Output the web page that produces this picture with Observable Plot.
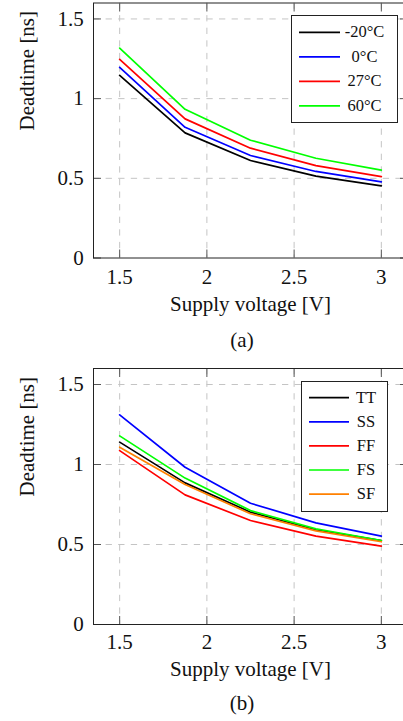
<!DOCTYPE html>
<html><head><meta charset="utf-8">
<script src="https://cdn.jsdelivr.net/npm/d3@7"></script>
<script src="https://cdn.jsdelivr.net/npm/@observablehq/plot@0.6"></script>
<style>
html,body{margin:0;padding:0;background:#fff;overflow:hidden;width:403px;height:721px;}
#root{position:relative;width:403px;height:721px;overflow:hidden;font-family:"Liberation Serif",serif;color:#000;}
.abs{position:absolute;}
svg.abs{max-width:none !important;}
svg.abs text{font-family:"Liberation Serif",serif !important;}
.cap{position:absolute;font-size:21px;line-height:21px;width:100px;text-align:center;font-family:"Liberation Serif",serif;}
</style></head><body><div id="root"></div>
<script>
// ---- data ----
const voltage = [1.5, 1.875, 2.25, 2.625, 3];

const tempNames = ["-20°C", "0°C", "27°C", "60°C"];
const tempColors = ["#000000", "#0000ff", "#ff0000", "#00ff00"];
const deadM20 = [1.146, 0.785, 0.612, 0.514, 0.453];
const dead0 = [1.196, 0.820, 0.643, 0.543, 0.478];
const dead27 = [1.246, 0.873, 0.689, 0.580, 0.511];
const dead60 = [1.317, 0.933, 0.739, 0.626, 0.551];

const cornerNames = ["TT", "SS", "FF", "FS", "SF"];
const cornerColors = ["#000000", "#0000ff", "#ff0000", "#00ff00", "#ff8000"];
const deadTT = [1.140, 0.885, 0.702, 0.592, 0.525];
const deadSS = [1.310, 0.983, 0.758, 0.635, 0.552];
const deadFF = [1.087, 0.810, 0.650, 0.552, 0.490];
const deadFS = [1.179, 0.915, 0.712, 0.598, 0.525];
const deadSF = [1.108, 0.875, 0.692, 0.585, 0.517];

const xTicks = [1.5, 2, 2.5, 3];
const yTicks = [0, 0.5, 1, 1.5];
const xLabel = "Supply voltage [V]";
const yLabel = "Deadtime [ns]";
const captions = ["(a)", "(b)"];

// ---- drawing ----
const root = document.getElementById("root");
const FONT = '"Liberation Serif", serif';

function tidy(names, series) {
  return names.flatMap((n, i) => voltage.map((v, j) => ({v, d: series[i][j], s: n})));
}

function chart(names, colors, series, cfg) {
  const rows = tidy(names, series);
  const grid = {stroke: "#c4c4c4", strokeOpacity: 1, strokeWidth: 1, strokeDasharray: "6.3,6.3"};
  const tick = {stroke: "#555", strokeWidth: 1, label: null, fontFamily: FONT, fill: "#111"};
  const svg = Plot.plot({
    width: 408, height: cfg.height,
    marginTop: cfg.marginTop, marginBottom: cfg.marginBottom, marginLeft: 93, marginRight: 1,
    style: `font-family: ${FONT}; font-size: 21px; color: #000; background: transparent; overflow: visible; max-width: none;`,
    x: {domain: [1.35, 3.15]},
    y: {domain: [0, 1.6]},
    color: {domain: names, range: colors},
    marks: [
      Plot.gridX(xTicks, grid),
      Plot.gridY(yTicks.filter(d => d > 0), grid),
      Plot.axisX(xTicks, {...tick, anchor: "bottom", tickSize: -8, tickPadding: cfg.xPad, tickFormat: d => String(d)}),
      Plot.axisX(xTicks, {...tick, anchor: "top", tickSize: -8, tickFormat: () => ""}),
      Plot.axisY(yTicks, {...tick, anchor: "left", tickSize: -8, tickPadding: 17.7, tickFormat: d => String(d)}),
      Plot.axisY(yTicks, {...tick, anchor: "right", tickSize: -8, tickFormat: () => ""}),
      Plot.line(rows, {x: "v", y: "d", z: "s", stroke: "s", strokeWidth: 1.7}),
      Plot.frame({stroke: "#222", strokeWidth: 1}),
      Plot.text([xLabel], {text: d => d, frameAnchor: "bottom", dy: cfg.labelDy, fontSize: 21, fontFamily: FONT, fill: "#111"}),
      Plot.text([yLabel], {text: d => d, frameAnchor: "left", dx: -66, rotate: -90, fontSize: 21, fontFamily: FONT, fill: "#111"})
    ]
  });
  svg.classList.add("abs");
  svg.style.left = "0px";
  svg.style.top = cfg.top + "px";
  svg.style.maxWidth = "none";
  svg.style.width = "408px";
  svg.style.height = cfg.height + "px";
  root.appendChild(svg);

  // legend box
  const L = cfg.legend;
  const lg = d3.select(root).append("svg").attr("class", "abs")
    .style("left", L.left + "px").style("top", L.top + "px")
    .attr("width", L.w).attr("height", L.h);
  lg.append("rect").attr("x", 0.5).attr("y", 0.5).attr("width", L.w - 1).attr("height", L.h - 1)
    .attr("fill", "#fff").attr("stroke", "#222").attr("stroke-width", 1);
  names.forEach((n, i) => {
    const y = L.y0 + i * L.dy;
    lg.append("line").attr("x1", L.x1).attr("x2", L.x2).attr("y1", y).attr("y2", y)
      .attr("stroke", colors[i]).attr("stroke-width", 1.7);
    lg.append("text").attr("x", L.tx).attr("y", y + 5).attr("text-anchor", "middle")
      .attr("font-family", FONT).attr("font-size", 16.5).attr("fill", "#111").text(n);
  });

  // caption
  const c = document.createElement("div");
  c.className = "cap";
  c.textContent = cfg.caption;
  c.style.left = (242 - 50) + "px";
  c.style.top = cfg.capTop + "px";
  c.style.color = "#111";
  root.appendChild(c);
}

chart(tempNames, tempColors, [deadM20, dead0, dead27, dead60], {
  top: 0, height: 325, marginTop: 2.5, marginBottom: 67.5, xPad: 18.9, labelDy: 52.8,
  caption: captions[0], capTop: 330.4,
  legend: {left: 291, top: 15, w: 107, h: 108, y0: 17.3, dy: 24.5, x1: 8, x2: 49, tx: 73.5}
});
chart(cornerNames, cornerColors, [deadTT, deadSS, deadFF, deadFS, deadSF], {
  top: 360, height: 330, marginTop: 8, marginBottom: 66, xPad: 17.4, labelDy: 51.3,
  caption: captions[1], capTop: 693.4,
  legend: {left: 301, top: 381, w: 87, h: 131, y0: 16.7, dy: 24.1, x1: 8, x2: 48, tx: 65}
});
</script></body></html>
